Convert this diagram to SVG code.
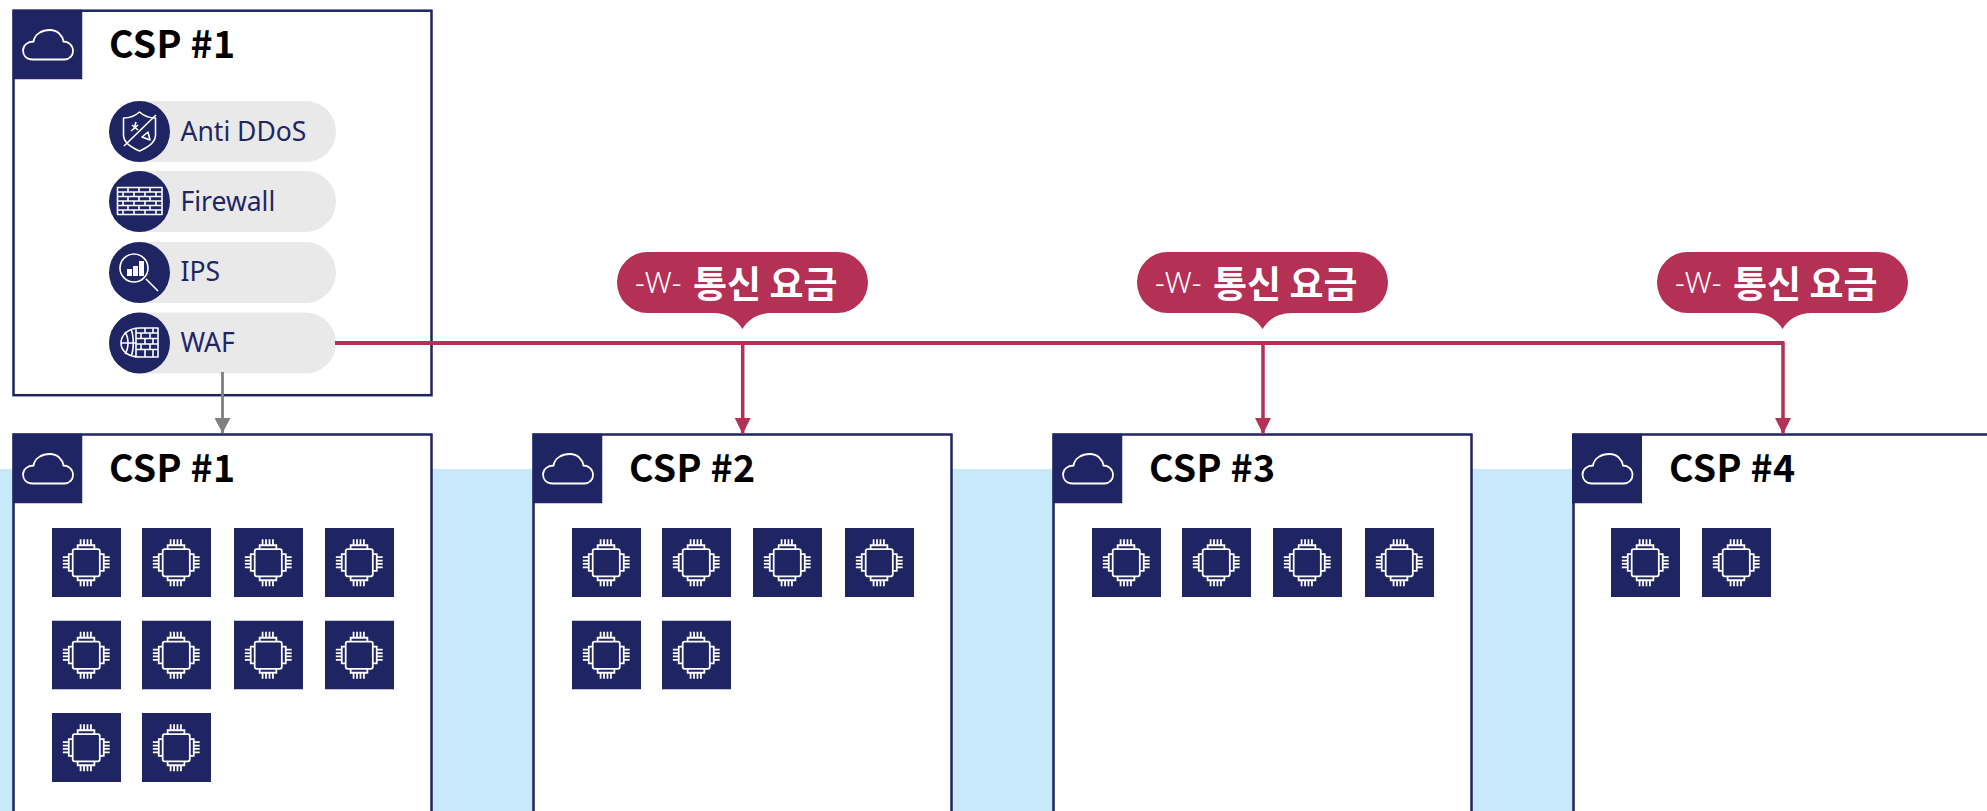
<svg xmlns="http://www.w3.org/2000/svg" width="1987" height="811" viewBox="0 0 1987 811">
<style>
.box{fill:#fff;stroke:#1f2563;stroke-width:2.5}
.sq{fill:#1f2563}
.ic{fill:none;stroke:#fff;stroke-width:1.6;stroke-linejoin:round}
.icf{fill:#fff;stroke:none}
.ttl{font:700 37.500px "Noto Sans CJK KR","Noto Sans",sans-serif;fill:#000;letter-spacing:.3px}
.pill{fill:#e9e9e9}
.pt{font:400 26.500px "Noto Sans","Noto Sans CJK KR",sans-serif;fill:#1f2563}
.bub{fill:#b43054}
.w{font:300 30px "Noto Sans","Noto Sans CJK KR",sans-serif;fill:#fff}
.fee{font:700 37px "Noto Sans CJK KR",sans-serif;fill:#fff}
.red{fill:none;stroke:#b43054;stroke-width:3.500}
.redh{fill:none;stroke:#b43054;stroke-width:4}
.gr{fill:none;stroke:#7f7f7f;stroke-width:2.800}
</style>
<defs>
<symbol id="cloud" viewBox="0 0 70 70" width="70" height="70">
<rect class="sq" width="70" height="70"/>
<path d="M20 50C14 50 10.500 46 10.500 41 10.500 36 15 32 21 32 22 25 29 20.500 37.500 20.500 45 20.500 50 26 51 32 56 32 60.500 36 60.500 41.500 60.500 46 57 50 52 50Z" fill="none" stroke="#fff" stroke-width="1.800"/>
</symbol>
<symbol id="chip" viewBox="0 0 70 70" width="69" height="69" preserveAspectRatio="none">
<rect class="sq" width="70" height="70"/>
<g fill="none" stroke="#fff" stroke-width="1.800">
<rect x="21" y="21.500" width="27.500" height="27.500" rx="2"/>
<path d="M26 21.500V17.500H43V21.500M26 49V53H43V49M21 26.500H17V43.500H21M48.500 26.500H52.500V43.500H48.500"/>
<path d="M29 17.500V11.500M32.500 17.500V11.500M36 17.500V11.500M39.500 17.500V11.500M29 53V59M32.500 53V59M36 53V59M39.500 53V59M17 29.500H11M17 33H11M17 36.500H11M17 40H11M52.500 29.500H58.500M52.500 33H58.500M52.500 36.500H58.500M52.500 40H58.500"/>
</g>
</symbol>
<marker id="ah-r" markerUnits="userSpaceOnUse" markerWidth="16" markerHeight="16" refX="16" refY="8" orient="auto"><path d="M0 0L16 8L0 16Z" fill="#b43054"/></marker>
<marker id="ah-g" markerUnits="userSpaceOnUse" markerWidth="16" markerHeight="16" refX="15" refY="8" orient="auto"><path d="M0 0L15 8L0 16Z" fill="#7f7f7f"/></marker>
</defs>
<rect id="band" x="0" y="469" width="1987" height="342" fill="#c8e9f9"/>

<g id="top-csp1">
<rect class="box" x="13.500" y="10.700" width="418" height="384.500"/>
<use href="#cloud" x="12.500" y="9.500"/>
<text class="ttl" x="109" y="58">CSP #1</text>
</g>
<g id="svc-antiddos">
<rect class="pill" x="109" y="101" width="227" height="61" rx="30.500"/>
<circle class="sq" cx="139.500" cy="131.500" r="30.500"/>
<path class="ic" d="M139.500 112C134 117 129 118 123.500 118V135C123.500 142 130 147 139.500 151 149 147 155.500 142 155.500 135V118C150 118 145 117 139.500 112Z"/>
<path class="ic" d="M124 146L156 115"/>
<path class="ic" d="M131 131L138 125M136 122L134 129M132 125L138 130"/>
<path class="ic" d="M142 137L148 132L150 140Z"/>
<text class="pt" x="180.500" y="141">Anti DDoS</text>
</g>
<g id="svc-firewall">
<rect class="pill" x="109" y="171" width="227" height="61" rx="30.500"/>
<circle class="sq" cx="139.500" cy="201.500" r="30.500"/>
<path class="ic" d="M117.500 187.500H162V214.500H117.500ZM117.500 192H162M117.500 196.500H162M117.500 201H162M117.500 205.500H162M117.500 210H162M128 187.500V192M139 187.500V192M150 187.500V192M123 192V196.500M134 192V196.500M145 192V196.500M156 192V196.500M128 196.500V201M139 196.500V201M150 196.500V201M123 201V205.500M134 201V205.500M145 201V205.500M156 201V205.500M128 205.500V210M139 205.500V210M150 205.500V210M123 210V214.500M134 210V214.500M145 210V214.500M156 210V214.500"/>
<text class="pt" x="180.500" y="211">Firewall</text>
</g>
<g id="svc-ips">
<rect class="pill" x="109" y="242" width="227" height="61" rx="30.500"/>
<circle class="sq" cx="139.500" cy="272.500" r="30.500"/>
<circle class="ic" cx="134" cy="268" r="14"/>
<path class="ic" d="M146 279L158 291"/>
<path class="icf" d="M127 269h5v7h-5zM133 266h5v10h-5zM139 261h5v15h-5z"/>
<text class="pt" x="180.500" y="281">IPS</text>
</g>
<g id="svc-waf">
<rect class="pill" x="109" y="312.500" width="227" height="61" rx="30.500"/>
<circle class="sq" cx="139.500" cy="343" r="30.500"/>
<path class="ic" d="M158 328H140C128 328 121 335 121 343 121 351 128 357 140 357H158Z"/>
<path class="ic" d="M121 343H136M125 332C129 338 129 348 125 354M131 329C134 336 134 350 131 356"/>
<path class="ic" d="M136 328V357M136 333H158M136 338.500H158M136 344H158M136 349.500H158M145 328V333M153 328V333M141 333V338.500M150 333V338.500M145 338.500V344M153 338.500V344M141 344V349.500M150 344V349.500M145 349.500V357M153 349.500V357"/>
<text class="pt" x="180.500" y="352">WAF</text>
</g>

<g id="csp1">
<rect class="box" x="13.500" y="434.500" width="418" height="400"/>
<use href="#cloud" x="12.500" y="433.500"/>
<text class="ttl" x="109" y="482">CSP #1</text>
<use href="#chip" x="52" y="528"/><use href="#chip" x="142" y="528"/><use href="#chip" x="234" y="528"/><use href="#chip" x="325" y="528"/>
<use href="#chip" x="52" y="620.500"/><use href="#chip" x="142" y="620.500"/><use href="#chip" x="234" y="620.500"/><use href="#chip" x="325" y="620.500"/>
<use href="#chip" x="52" y="713"/><use href="#chip" x="142" y="713"/>
</g>
<g id="csp2">
<rect class="box" x="533.500" y="434.500" width="418" height="400"/>
<use href="#cloud" x="532.500" y="433.500"/>
<text class="ttl" x="629" y="482">CSP #2</text>
<use href="#chip" x="572" y="528"/><use href="#chip" x="662" y="528"/><use href="#chip" x="753" y="528"/><use href="#chip" x="845" y="528"/>
<use href="#chip" x="572" y="620.500"/><use href="#chip" x="662" y="620.500"/>
</g>
<g id="csp3">
<rect class="box" x="1053.500" y="434.500" width="418" height="400"/>
<use href="#cloud" x="1052.500" y="433.500"/>
<text class="ttl" x="1149" y="482">CSP #3</text>
<use href="#chip" x="1092" y="528"/><use href="#chip" x="1182" y="528"/><use href="#chip" x="1273" y="528"/><use href="#chip" x="1365" y="528"/>
</g>
<g id="csp4">
<rect class="box" x="1573.500" y="434.500" width="500" height="400"/>
<use href="#cloud" x="1572" y="433.500"/>
<text class="ttl" x="1669" y="482">CSP #4</text>
<use href="#chip" x="1611" y="528"/><use href="#chip" x="1702" y="528"/>
</g>

<g id="connectors">
<path class="gr" d="M222.500 372V433" marker-end="url(#ah-g)"/>
<path class="redh" d="M335 343H1784.500"/>
<path class="red" d="M742.700 343V434" marker-end="url(#ah-r)"/>
<path class="red" d="M1263 343V434" marker-end="url(#ah-r)"/>
<path class="red" d="M1783 343V434" marker-end="url(#ah-r)"/>
</g>

<g id="fee1">
<path class="bub" d="M647.500 252H837.500A30.500 30.500 0 0 1 837.500 313H772C757 313 748 320 742.500 329 737 320 728 313 713 313H647.500A30.500 30.500 0 0 1 647.500 252Z"/>
<text class="w" x="635" y="293">-W-</text><text class="fee" x="693" y="298">통신 요금</text>
</g>
<g id="fee2">
<path class="bub" d="M1167.500 252H1357.500A30.500 30.500 0 0 1 1357.500 313H1292C1277 313 1268 320 1262.500 329 1257 320 1248 313 1233 313H1167.500A30.500 30.500 0 0 1 1167.500 252Z"/>
<text class="w" x="1155" y="293">-W-</text><text class="fee" x="1213" y="298">통신 요금</text>
</g>
<g id="fee3">
<path class="bub" d="M1687.500 252H1877.500A30.500 30.500 0 0 1 1877.500 313H1812C1797 313 1788 320 1782.500 329 1777 320 1768 313 1753 313H1687.500A30.500 30.500 0 0 1 1687.500 252Z"/>
<text class="w" x="1675" y="293">-W-</text><text class="fee" x="1733" y="298">통신 요금</text>
</g>
</svg>
